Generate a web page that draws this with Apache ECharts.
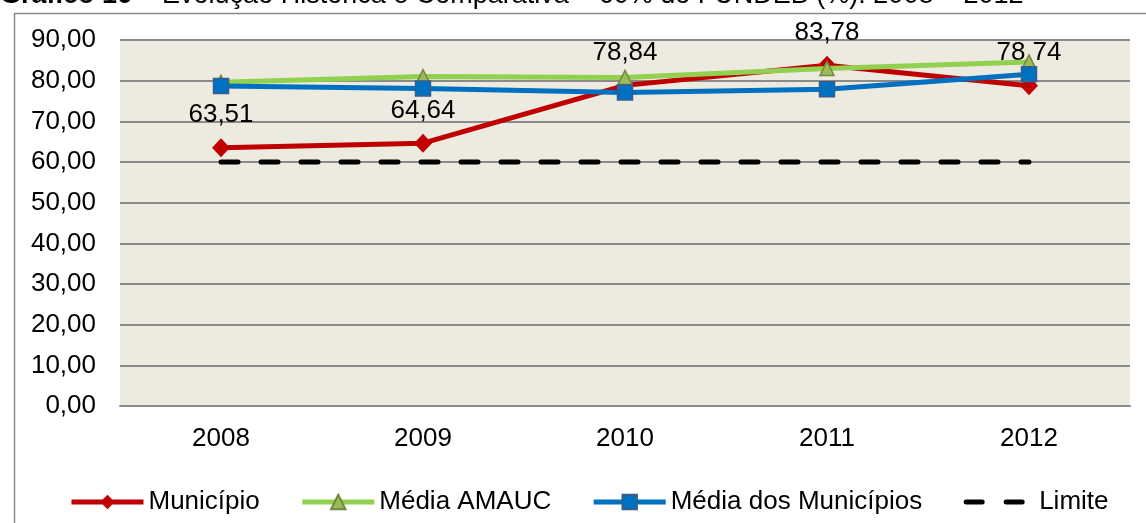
<!DOCTYPE html>
<html>
<head>
<meta charset="utf-8">
<script src="https://cdn.jsdelivr.net/npm/echarts@6/dist/echarts.min.js"></script>
<style>
html,body{margin:0;padding:0;background:#fff;}
#c{width:1146px;height:523px;}
</style>
</head>
<body>
<div id="c"></div>
<script>
const years = ['2008', '2009', '2010', '2011', '2012'];
const municipio = [63.51, 64.64, 78.84, 83.78, 78.74];
const mediaAmauc = [79.6, 81.0, 80.8, 83.0, 84.6];
const mediaMunicipios = [78.7, 78.1, 77.1, 77.9, 81.6];
const limite = [60, 60, 60, 60, 60];
const yTicks = { min: 0, max: 90, interval: 10 };

const FONT = '"Liberation Sans", Arial, sans-serif';
const chart = echarts.init(document.getElementById('c'), null, { renderer: 'canvas' });

const fmt = v => v.toFixed(2).replace('.', ',');

chart.setOption({
  animation: false,
  backgroundColor: '#ffffff',
  textStyle: { fontFamily: FONT },
  title: {
    left: 0,
    top: -17,
    padding: 0,
    text: '{b|Gráfico 16}{n| – Evolução Histórica e Comparativa – 60% do FUNDEB (%): 2008 – 2012}',
    textStyle: {
      rich: {
        b: { fontFamily: FONT, fontSize: 27, fontWeight: 'bold', color: '#000', lineHeight: 26 },
        n: { fontFamily: FONT, fontSize: 27, fontWeight: 'normal', color: '#000', lineHeight: 26 }
      }
    }
  },
  graphic: [{
    type: 'rect',
    left: 12, top: 11,
    shape: { width: 1200, height: 600 },
    style: { fill: 'none', stroke: '#8a8a8a', lineWidth: 1.5 },
    silent: true, z: -1
  }],
  grid: {
    left: 120, right: 16, top: 40, bottom: 117,
    show: true, backgroundColor: '#edeae0', borderWidth: 0
  },
  legend: {
    left: 64, top: 484,
    itemWidth: 72, itemHeight: 18, itemGap: 40,
    lineStyle: { width: 5 },
    textStyle: { fontFamily: FONT, fontSize: 26, color: '#000' },
    data: [
      'Município',
      'Média AMAUC',
      'Média dos Municípios',
      { name: 'Limite', icon: 'path://M0,0M72,18M4,6.5h16a2.5,2.5 0 0 1 0,5h-16a2.5,2.5 0 0 1 0,-5zM44,6.5h16a2.5,2.5 0 0 1 0,5h-16a2.5,2.5 0 0 1 0,-5z' }
    ]
  },
  xAxis: {
    type: 'category',
    data: years,
    boundaryGap: true,
    axisTick: { show: false },
    axisLine: { show: true, lineStyle: { color: '#8a8a8a', width: 2 } },
    axisLabel: { fontFamily: FONT, fontSize: 26, color: '#000', margin: 20 }
  },
  yAxis: {
    type: 'value',
    min: yTicks.min, max: yTicks.max, interval: yTicks.interval,
    axisLine: { show: false },
    axisTick: { show: false },
    axisLabel: { fontFamily: FONT, fontSize: 26, color: '#000', margin: 24, formatter: fmt },
    splitLine: { show: true, lineStyle: { color: '#8a8a8a', width: 2 } }
  },
  series: [
    {
      name: 'Município', type: 'line', data: municipio,
      symbol: 'diamond', symbolSize: [18, 19],
      itemStyle: { color: '#c00000' },
      lineStyle: { color: '#c00000', width: 5 },
      label: { show: true, position: 'top', distance: 10, fontFamily: FONT, fontSize: 26, color: '#000', formatter: p => fmt(p.value) },
      z: 2
    },
    {
      name: 'Média AMAUC', type: 'line', data: mediaAmauc,
      symbol: 'triangle', symbolSize: 14,
      itemStyle: { color: '#9bbb59', borderColor: '#71893f', borderWidth: 1.5 },
      lineStyle: { color: '#92d050', width: 5 },
      z: 3
    },
    {
      name: 'Média dos Municípios', type: 'line', data: mediaMunicipios,
      symbol: 'rect', symbolSize: 15,
      itemStyle: { color: '#0070c0', borderColor: '#385d8a', borderWidth: 1.5 },
      lineStyle: { color: '#0070c0', width: 5 },
      z: 4
    },
    {
      name: 'Limite', type: 'line', data: limite,
      symbol: 'none',
      itemStyle: { color: '#000' },
      lineStyle: { color: '#000', width: 5, type: [17, 23], cap: 'round' },
      z: 5
    }
  ]
});
</script>
</body>
</html>
